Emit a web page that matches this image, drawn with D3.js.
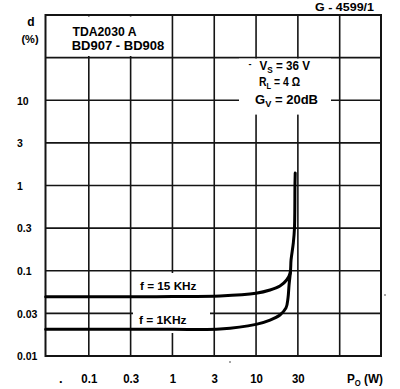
<!DOCTYPE html>
<html><head><meta charset="utf-8">
<script src="https://cdn.jsdelivr.net/npm/d3@7/dist/d3.min.js"></script>
<style>
html,body{margin:0;padding:0;background:#fff;}
svg{display:block;font-family:"Liberation Sans",Arial,Helvetica,sans-serif;font-weight:bold;}
</style></head><body>
<svg id="chart" width="400" height="389"></svg>
<script>
// ---- data ----
const upperP = [0.0305, 0.3, 1, 3.71, 9.98, 14.7, 19.3, 23.2, 25.5, 26.2, 27.9, 28.8, 29.2, 29.4];
const upperD = [0.0495, 0.0495, 0.0498, 0.0506, 0.0544, 0.0594, 0.0662, 0.0779, 0.0933, 0.1337, 0.212, 0.317, 1.04, 1.40];
const lowerP = [0.0305, 0.3, 1, 3.71, 9.98, 14.7, 19.3, 22.8, 24.1, 24.8, 25.8];
const lowerD = [0.0206, 0.0206, 0.0206, 0.0207, 0.0235, 0.0264, 0.0303, 0.0366, 0.048, 0.068, 0.0966];
const xTickValues = [0.1, 0.316, 1, 3.16, 10, 31.6];
const xTickLabels = ["0.1", "0.3", "1", "3", "10", "30"];
const yTickValues = [0.01, 0.0316, 0.1, 0.316, 1, 3.16, 10];
const yTickLabels = ["0.01", "0.03", "0.1", "0.3", "1", "3", "10"];
const seriesLabels = ["f = 15 KHz", "f = 1KHz"];
const titleLines = ["TDA2030 A", "BD907 - BD908"];

// ---- layout ----
const svg = d3.select("#chart");
const x = d3.scaleLog().domain([Math.pow(10, -1.5), Math.pow(10, 2.5)]).range([47, 381.5]);
const y = d3.scaleLog().domain([0.01, 100]).range([356, 15]);
const frame = {l: 45.5, r: 381, t: 15, b: 356};
const ink = "#141414";

const xGrid = d3.range(-2, 5).map(k => Math.pow(10, k / 2));
const yGrid = d3.range(-3, 4).map(k => Math.pow(10, k / 2));

const grid = svg.append("g").attr("stroke", ink).attr("stroke-width", 1.6);
grid.selectAll("line.v").data(xGrid).join("line").attr("class", "v")
  .attr("x1", d => x(d)).attr("x2", d => x(d)).attr("y1", frame.t).attr("y2", frame.b);
grid.selectAll("line.h").data(yGrid).join("line").attr("class", "h")
  .attr("x1", frame.l).attr("x2", frame.r).attr("y1", d => y(d)).attr("y2", d => y(d));

// blank areas behind annotations (grid is interrupted there)
const masks = [
  [47, 16.5, 124, 39.5],
  [239, 58.6, 92, 56],
  [133, 273, 77, 60]
];
svg.append("g").selectAll("rect").data(masks).join("rect")
  .attr("x", d => d[0]).attr("y", d => d[1]).attr("width", d => d[2]).attr("height", d => d[3])
  .attr("fill", "#fff");

// frame
svg.append("rect").attr("x", frame.l).attr("y", frame.t)
  .attr("width", frame.r - frame.l).attr("height", frame.b - frame.t)
  .attr("fill", "none").attr("stroke", ink).attr("stroke-width", 2);

// curves
const line = d3.line().x(d => x(d[0])).y(d => y(d[1])).curve(d3.curveCatmullRom.alpha(0.5));
const upper = upperP.map((p, i) => [p, upperD[i]]);
const lower = lowerP.map((p, i) => [p, lowerD[i]]);
svg.append("g").selectAll("path").data([upper, lower]).join("path")
  .attr("d", line).attr("fill", "none").attr("stroke", "#000")
  .attr("stroke-width", 3).attr("stroke-linecap", "round").attr("stroke-linejoin", "round");

// axes
const yAxis = d3.axisLeft(y).tickValues(yTickValues).tickFormat((d, i) => yTickLabels[i]).tickSize(0);
const gy = svg.append("g").attr("transform", `translate(${frame.l},0)`).call(yAxis);
gy.select(".domain").remove();
gy.selectAll("text").attr("x", 17 - frame.l).attr("text-anchor", "start")
  .attr("font-size", 10.5).attr("font-weight", "bold").attr("fill", "#000")
  .attr("font-family", "Liberation Sans, Arial, sans-serif").attr("dy", "0.36em");

const xAxis = d3.axisBottom(x).tickValues(xTickValues).tickFormat((d, i) => xTickLabels[i]).tickSize(0);
const gx = svg.append("g").attr("transform", `translate(0,${frame.b})`).call(xAxis);
gx.select(".domain").remove();
gx.selectAll("text").attr("y", 27).attr("dy", 0)
  .attr("font-size", 13).attr("font-weight", "bold").attr("fill", "#000")
  .attr("font-family", "Liberation Sans, Arial, sans-serif")
  .each(function () {
    const L = this.getComputedTextLength();
    d3.select(this).attr("textLength", L * 0.88).attr("lengthAdjust", "spacingAndGlyphs");
  });

// texts
const T = (txt, px, py, size, anchor, len) => {
  const t = svg.append("text").attr("x", px).attr("y", py).attr("font-size", size)
    .attr("text-anchor", anchor || "start").attr("fill", "#000").text(txt);
  if (len) t.attr("textLength", len).attr("lengthAdjust", "spacingAndGlyphs");
  return t;
};
T("G - 4599/1", 315, 10.5, 10, "start", 59);
T("d", 31, 26, 12, "middle");
T("(%)", 30, 43, 11, "middle");
T(titleLines[0], 72.5, 36, 12.5, "start", 64);
T(titleLines[1], 71.7, 50, 12.5, "start", 92.6);
T(seriesLabels[0], 140, 290, 11.5, "start", 56.5);
T(seriesLabels[1], 139, 324, 11.5, "start", 47.5);
T(".", 59, 383, 13, "start");

// conditions (with subscripts)
const sub = (main, s, rest, px, py, len) => {
  const t = svg.append("text").attr("x", px).attr("y", py).attr("font-size", 12).attr("fill", "#000");
  t.append("tspan").text(main);
  t.append("tspan").attr("font-size", 8.5).attr("dy", 3).text(s);
  t.append("tspan").attr("dy", -3).text(rest);
  if (len) t.attr("textLength", len).attr("lengthAdjust", "spacingAndGlyphs");
  return t;
};
T("-", 248.5, 67, 9, "start");
sub("V", "S", " = 36 V", 259.5, 70, 50.5);
sub("R", "L", " = 4 \u03A9", 259, 85.5, 41);
sub("G", "V", " = 20dB", 255, 103.5, 63);
sub("P", "O", " (W)", 347, 383, 36).attr("font-size", 13);

// stray scan dots
svg.append("circle").attr("cx", 230).attr("cy", 362).attr("r", 0.8).attr("fill", "#333");
svg.append("circle").attr("cx", 385).attr("cy", 295).attr("r", 0.8).attr("fill", "#333");
</script>
</body></html>
